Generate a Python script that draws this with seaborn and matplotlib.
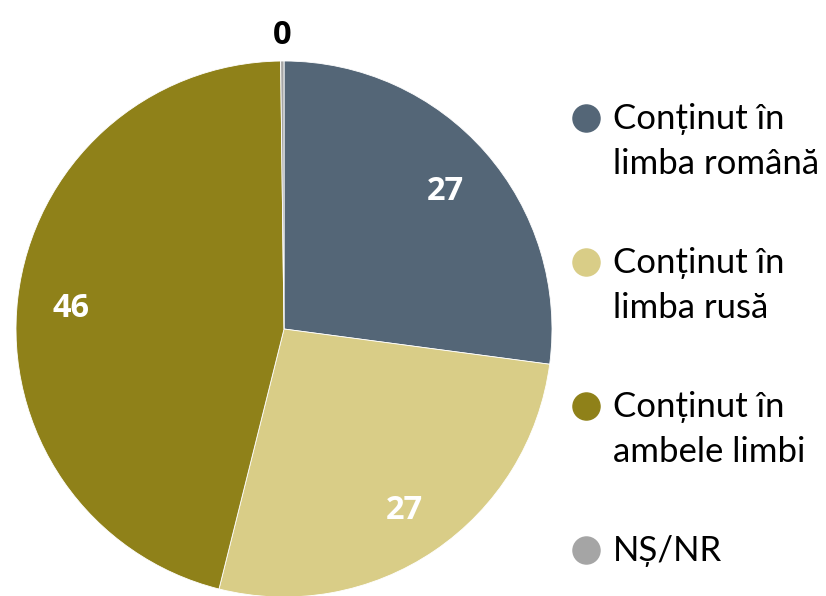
import seaborn as sns
import matplotlib.pyplot as plt
from matplotlib.lines import Line2D
import numpy as np

sns.set_style("white")
plt.rcParams['font.family'] = ['Lato', 'DejaVu Sans']

# Data
categories = ["Conținut în\nlimba română", "Conținut în\nlimba rusă",
              "Conținut în\nambele limbi", "NȘ/NR"]
values = [27.1, 26.8, 45.9, 0.2]
shown = ["27", "27", "46", "0"]
colors = ["#546677", "#D9CD87", "#8F8119", "#A5A5A5"]

fig = plt.figure(figsize=(8.26, 5.96), dpi=100)
ax = fig.add_axes([16 / 826, -1 / 596, 536 / 826, 536 / 596])

wedges, texts = ax.pie(values, labels=shown, labeldistance=0.8, startangle=90,
                       counterclock=False, colors=colors,
                       wedgeprops=dict(linewidth=0.6, edgecolor="white"),
                       textprops=dict(fontsize=23.5, fontweight="bold", color="white",
                                      family=["Open Sans", "DejaVu Sans"]))
ax.set_xlim(-1, 1)
ax.set_ylim(-1, 1)
ax.set_aspect("equal")
for t in texts:
    t.set_ha("center")
    t.set_va("center_baseline")

# small slice label sits outside the pie
w = wedges[-1]
ang = np.deg2rad((w.theta1 + w.theta2) / 2)
texts[-1].set_position((1.11 * np.cos(ang), 1.11 * np.sin(ang)))
texts[-1].set_color("black")

# legend drawn by hand so the marker lines up with the first text line
for i, (lab, c) in enumerate(zip(categories, colors)):
    y = 118 + i * 144
    nlines = lab.count("\n")
    fig.add_artist(Line2D([586 / 826], [1 - y / 596], marker="o", linestyle="",
                          markersize=19.5, markerfacecolor=c, markeredgecolor=c,
                          transform=fig.transFigure))
    fig.text(613 / 826, 1 - (y + 11 + 45 * nlines) / 596, lab, fontsize=25, ha="left",
             va="baseline", linespacing=1.5, color="black")

fig.savefig("out.png", dpi=100)
